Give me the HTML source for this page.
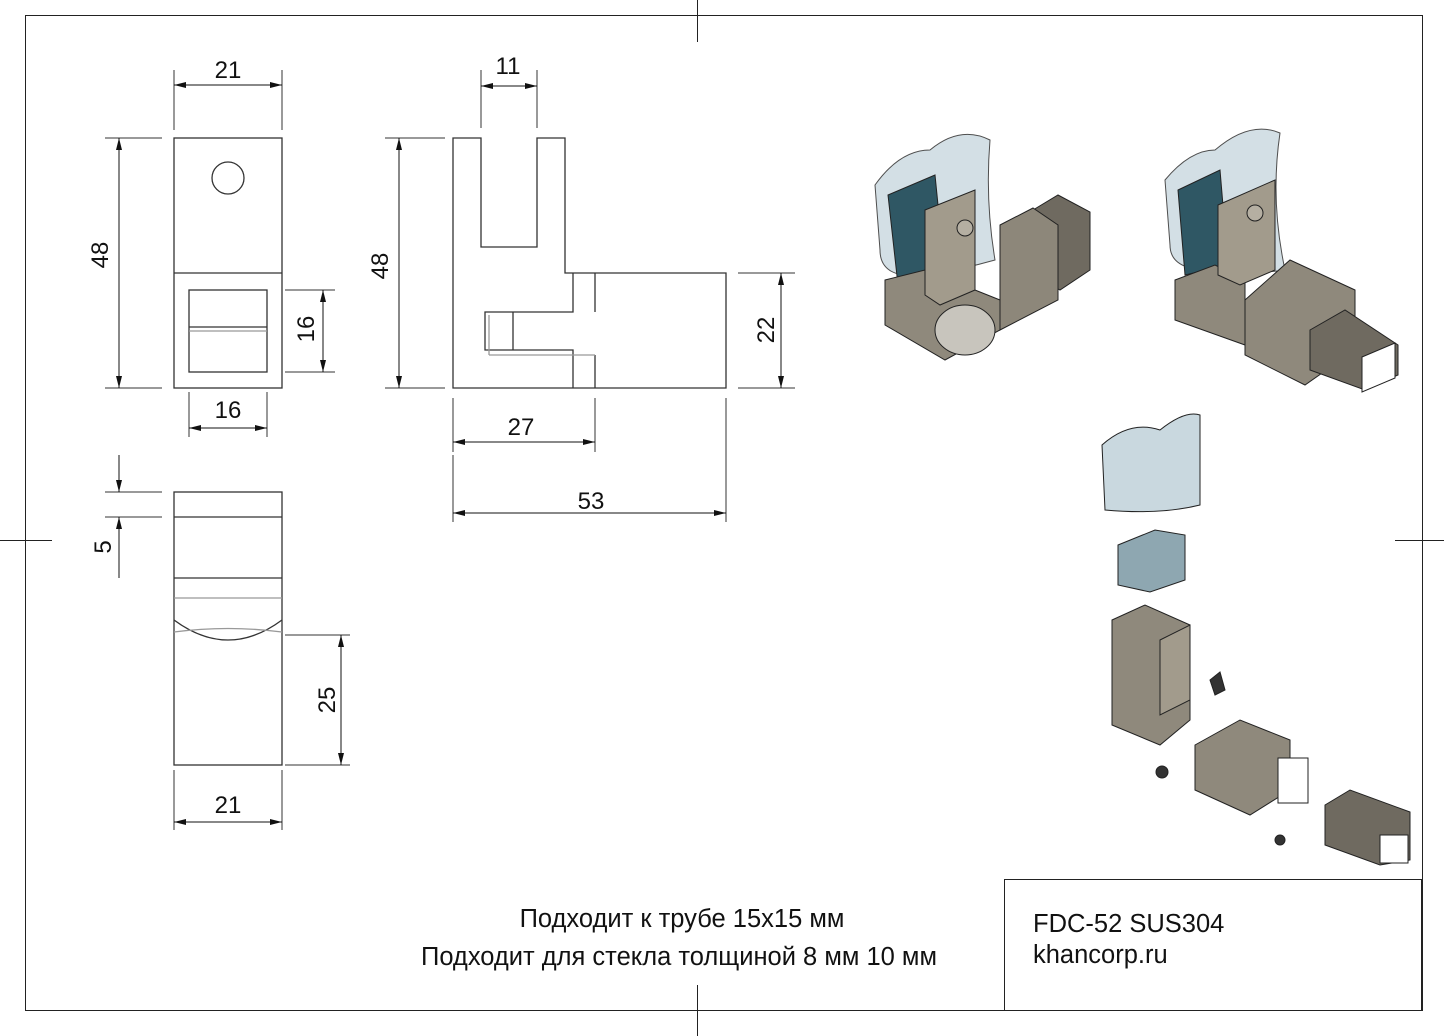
<!DOCTYPE html>
<html><head><meta charset="utf-8"><style>
html,body{margin:0;padding:0;background:#fff}
svg{display:block}
text{font-family:"Liberation Sans",sans-serif;fill:#111}
</style></head><body>
<svg width="1444" height="1036" viewBox="0 0 1444 1036" xmlns="http://www.w3.org/2000/svg">
<defs>
<marker id="a" viewBox="0 0 12 6" refX="12" refY="3" markerWidth="12" markerHeight="6" orient="auto-start-reverse" markerUnits="userSpaceOnUse"><path d="M0,0 L12,3 L0,6 z" fill="#111"/></marker>
</defs>
<g fill="none" stroke="#222" stroke-width="1">
<rect x="25.5" y="15.5" width="1397" height="995"/>
<line x1="697.5" y1="0" x2="697.5" y2="42"/>
<line x1="697.5" y1="985" x2="697.5" y2="1036"/>
<line x1="0" y1="540.5" x2="52" y2="540.5"/>
<line x1="1395" y1="540.5" x2="1444" y2="540.5"/>
<rect x="1004.5" y="879.5" width="417" height="131"/>
</g>
<g fill="none" stroke="#333" stroke-width="1.3">
<rect x="174" y="138" width="108" height="250"/>
<line x1="174" y1="273" x2="282" y2="273"/>
<circle cx="228" cy="178" r="16"/>
<rect x="189" y="290" width="78" height="82"/>
<line x1="189" y1="327" x2="267" y2="327"/>
<line x1="189" y1="331" x2="267" y2="331" stroke="#999"/>
<path d="M453,138 H481 V247 H537 V138 H565 V273 H726 V388 H453 Z"/>
<path d="M573,273 V312 H485 V350 H573 V388"/>
<path d="M595,273 V312 M595,355 V388 M513,312 V350"/>
<line x1="489" y1="315" x2="489" y2="355" stroke="#999"/>
<line x1="489" y1="355" x2="595" y2="355" stroke="#999"/>
<rect x="174" y="492" width="108" height="273"/>
<line x1="174" y1="517" x2="282" y2="517"/>
<line x1="174" y1="578" x2="282" y2="578"/>
<line x1="174" y1="598" x2="282" y2="598" stroke="#999"/>
<path d="M174,620 Q228,660 282,620"/>
<path d="M174,632 Q228,625 282,632" stroke="#999"/>
</g>
<g stroke="#333" stroke-width="1" fill="none">
<path d="M174,70 V130 M282,70 V130"/>
<path d="M105,138 H162 M105,388 H162"/>
<path d="M285,290 H335 M285,372 H335"/>
<path d="M189,392 V437 M267,392 V437"/>
<path d="M481,70 V128 M537,70 V128"/>
<path d="M385,138 H445 M385,388 H445"/>
<path d="M738,273 H795 M738,388 H795"/>
<path d="M453,398 V452 M595,398 V452 M726,398 V522 M453,455 V522"/>
<path d="M105,492 H162 M105,517 H162"/>
<path d="M285,635 H350 M285,765 H350"/>
<path d="M174,770 V830 M282,770 V830"/>
</g>
<g stroke="#111" stroke-width="1" marker-start="url(#a)" marker-end="url(#a)">
<line x1="174" y1="85" x2="282" y2="85"/>
<line x1="119" y1="138" x2="119" y2="388"/>
<line x1="323" y1="290" x2="323" y2="372"/>
<line x1="189" y1="428" x2="267" y2="428"/>
<line x1="481" y1="86" x2="537" y2="86"/>
<line x1="399" y1="138" x2="399" y2="388"/>
<line x1="781" y1="273" x2="781" y2="388"/>
<line x1="453" y1="442" x2="595" y2="442"/>
<line x1="453" y1="513" x2="726" y2="513"/>
<line x1="341" y1="635" x2="341" y2="765"/>
<line x1="174" y1="822" x2="282" y2="822"/>
</g>
<g stroke="#111" stroke-width="1">
<line x1="119" y1="455" x2="119" y2="492" marker-end="url(#a)"/>
<line x1="119" y1="578" x2="119" y2="517" marker-end="url(#a)"/>
</g>
<g font-size="24" text-anchor="middle">
<text x="228" y="78">21</text>
<text x="228" y="418">16</text>
<text x="508" y="74">11</text>
<text x="521" y="435">27</text>
<text x="591" y="509">53</text>
<text x="228" y="813">21</text>
<text transform="translate(108,255) rotate(-90)">48</text>
<text transform="translate(314,329) rotate(-90)">16</text>
<text transform="translate(388,266) rotate(-90)">48</text>
<text transform="translate(774,330) rotate(-90)">22</text>
<text transform="translate(111,547) rotate(-90)">5</text>
<text transform="translate(335,700) rotate(-90)">25</text>
</g>
<g font-size="25.5" text-anchor="middle">
<text x="682" y="927">Подходит к трубе 15х15 мм</text>
<text x="679" y="965">Подходит для стекла толщиной 8 мм 10 мм</text>
</g>
<text x="1033" y="932" font-size="25.5">FDC-52 SUS304</text>
<text x="1033" y="963" font-size="25.5">khancorp.ru</text>
<g stroke="#222" stroke-width="1">
<path d="M875,185 Q900,150 930,150 Q960,125 990,140 Q985,200 995,260 Q960,270 925,275 Q880,280 880,250 Z" fill="#c9d8df" opacity=".8"/>
<path d="M888,195 L935,175 L945,275 L898,285 Z" fill="#2f5764"/>
<path d="M1033,210 L1058,195 L1090,212 L1090,270 L1060,290 L1033,275 Z" fill="#6f6a60"/>
<path d="M1000,225 L1033,208 L1058,225 L1058,300 L1000,330 Z" fill="#8d877a"/>
<path d="M885,280 L925,270 L1000,300 L1000,330 L945,360 L885,325 Z" fill="#8f897c"/>
<ellipse cx="965" cy="330" rx="30" ry="25" fill="#c8c5bd"/>
<path d="M925,210 L975,190 L975,290 L940,305 L925,295 Z" fill="#a29b8c"/>
<circle cx="965" cy="228" r="8" fill="#b5afa2"/>
</g>
<g stroke="#222" stroke-width="1">
<path d="M1165,180 Q1190,150 1215,150 Q1250,120 1280,133 Q1270,200 1285,270 Q1250,275 1210,270 Q1170,270 1170,245 Z" fill="#c9d8df" opacity=".8"/>
<path d="M1178,190 L1220,170 L1228,265 L1185,275 Z" fill="#2f5764"/>
<path d="M1175,280 L1215,265 L1245,280 L1245,345 L1175,320 Z" fill="#8f897c"/>
<path d="M1218,205 L1275,180 L1275,270 L1240,285 L1218,275 Z" fill="#a29b8c"/>
<circle cx="1255" cy="213" r="8" fill="#b5afa2"/>
<path d="M1245,300 L1290,260 L1355,290 L1355,350 L1305,385 L1245,355 Z" fill="#8f897c"/>
<path d="M1310,330 L1345,310 L1398,345 L1398,375 L1365,390 L1310,370 Z" fill="#6f6a60"/>
<path d="M1362,357 L1395,343 L1395,378 L1362,392 Z" fill="#fff"/>
</g>
<g stroke="#222" stroke-width="1">
<path d="M1102,445 Q1130,420 1160,430 Q1185,410 1200,415 L1200,505 Q1160,515 1105,510 Z" fill="#c9d8df"/>
<path d="M1118,545 L1155,530 L1185,535 L1185,580 L1150,592 L1118,585 Z" fill="#8ea7b1"/>
<path d="M1112,620 L1145,605 L1190,625 L1190,720 L1160,745 L1112,725 Z" fill="#8f897c"/>
<path d="M1160,640 L1190,625 L1190,700 L1160,715 Z" fill="#a29b8c"/>
<path d="M1210,680 L1220,672 L1225,690 L1215,695 Z" fill="#333"/>
<path d="M1195,745 L1240,720 L1290,740 L1290,790 L1250,815 L1195,790 Z" fill="#8f897c"/>
<rect x="1278" y="758" width="30" height="45" fill="#fff"/>
<path d="M1325,805 L1350,790 L1410,812 L1410,860 L1380,865 L1325,845 Z" fill="#6f6a60"/>
<rect x="1380" y="835" width="28" height="28" fill="#fff"/>
<circle cx="1162" cy="772" r="6" fill="#333"/>
<circle cx="1280" cy="840" r="5" fill="#333"/>
</g>
</svg>
</body></html>
